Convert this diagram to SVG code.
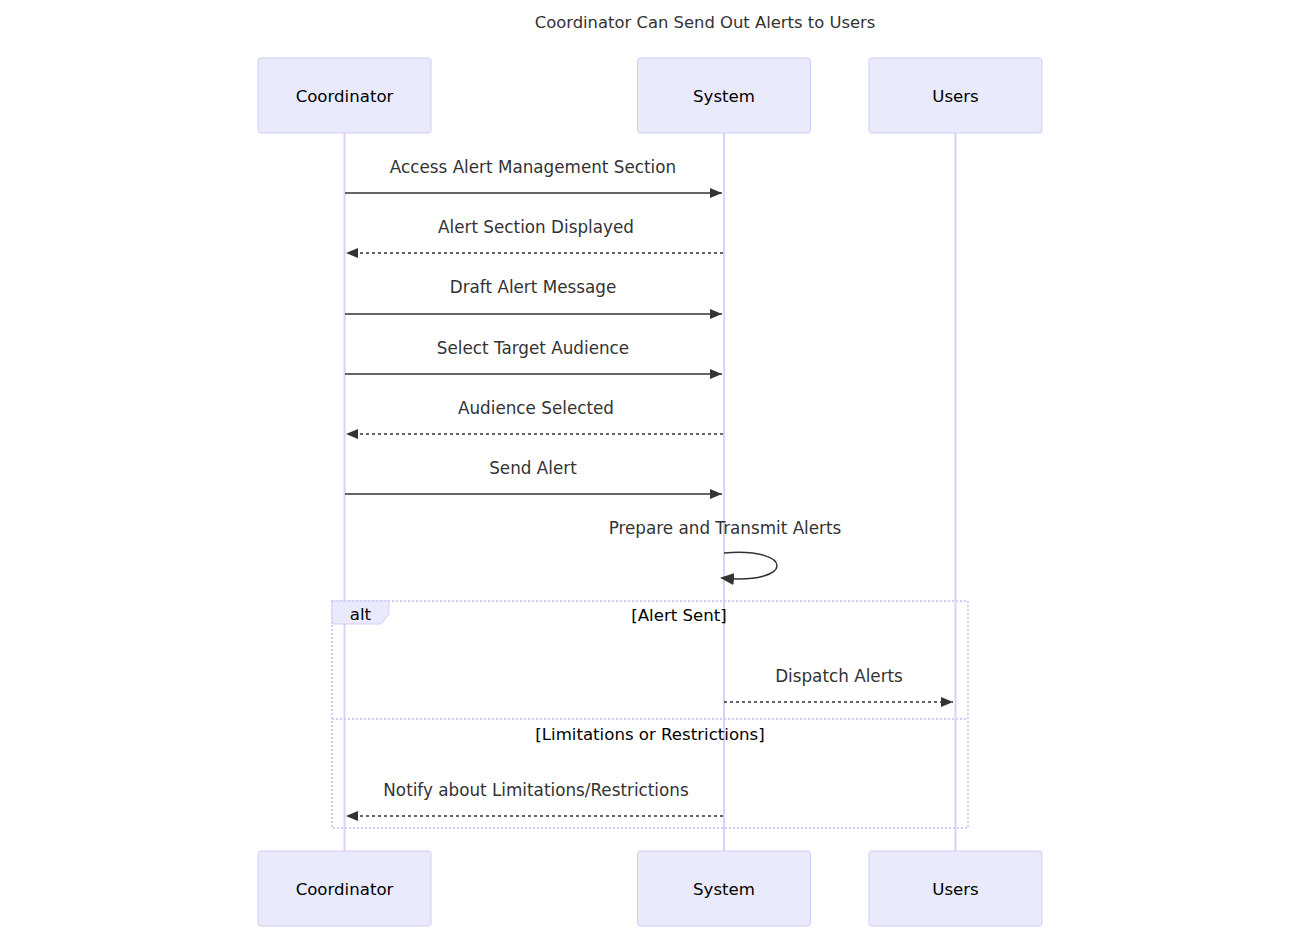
<svg xmlns="http://www.w3.org/2000/svg" width="1300" height="939" viewBox="0 0 1300 939">
<defs>
<style>
.actor{fill:#EAEAFD;stroke:#D5CCF3;stroke-width:1}
.actxt{font-family:"DejaVu Sans","Liberation Sans",sans-serif;font-size:16.6px;fill:#000;text-anchor:middle;dominant-baseline:central}
.life{stroke:#D9D2F5;stroke-width:2}
.msg{font-family:"DejaVu Sans","Liberation Sans",sans-serif;font-size:16.8px;fill:#333;text-anchor:middle;dominant-baseline:central}
.ttl{font-family:"DejaVu Sans","Liberation Sans",sans-serif;font-size:16.4px;fill:#333;text-anchor:middle;dominant-baseline:central}
.solid{stroke:#333;stroke-width:1.5;fill:none}
.dash{stroke:#333;stroke-width:1.5;fill:none;stroke-dasharray:3,3}
.loop{stroke:#D5CCF3;stroke-width:2;fill:none;stroke-dasharray:2,2}
.lbl{font-family:"DejaVu Sans","Liberation Sans",sans-serif;font-size:16.6px;fill:#000;text-anchor:middle;dominant-baseline:central}
</style>
<marker id="arr" viewBox="0 0 12 10" refX="12" refY="5" markerWidth="12" markerHeight="10" markerUnits="userSpaceOnUse" orient="auto">
<path d="M0,0 L12,5 L0,10 z" fill="#333"/>
</marker>
<marker id="arr2" viewBox="0 0 14 12" refX="12" refY="6" markerWidth="14" markerHeight="12" markerUnits="userSpaceOnUse" orient="auto">
<path d="M0,0 L14,6 L0,12 z" fill="#333"/>
</marker>
</defs>
<rect width="1300" height="939" fill="#fff"/>
<text class="ttl" x="705" y="22">Coordinator Can Send Out Alerts to Users</text>

<g id="lifelines">
<line class="life" x1="344.5" y1="133" x2="344.5" y2="851"/>
<line class="life" x1="724" y1="133" x2="724" y2="851"/>
<line class="life" x1="955.5" y1="133" x2="955.5" y2="851"/>
</g>

<g id="actor-coordinator-top"><rect class="actor" x="258" y="58" width="173" height="75" rx="3"/><text class="actxt" x="344.5" y="96">Coordinator</text></g>
<g id="actor-system-top"><rect class="actor" x="637.5" y="58" width="173" height="75" rx="3"/><text class="actxt" x="724" y="96">System</text></g>
<g id="actor-users-top"><rect class="actor" x="869" y="58" width="173" height="75" rx="3"/><text class="actxt" x="955.5" y="96">Users</text></g>

<g id="actor-coordinator-bottom"><rect class="actor" x="258" y="851" width="173" height="75" rx="3"/><text class="actxt" x="344.5" y="889">Coordinator</text></g>
<g id="actor-system-bottom"><rect class="actor" x="637.5" y="851" width="173" height="75" rx="3"/><text class="actxt" x="724" y="889">System</text></g>
<g id="actor-users-bottom"><rect class="actor" x="869" y="851" width="173" height="75" rx="3"/><text class="actxt" x="955.5" y="889">Users</text></g>

<g id="alt-frame">
<rect class="loop" x="332" y="601" width="636" height="227"/>
<path d="M332,601 L389,601 L389,614 L381,624 L332,624 z" fill="#EAEAFD" stroke="#D5CCF3" stroke-width="1"/>
<text class="lbl" x="360.5" y="614">alt</text>
<text class="lbl" x="679" y="615">[Alert Sent]</text>
<line class="loop" x1="332" y1="719" x2="968" y2="719"/>
<text class="lbl" x="650" y="734">[Limitations or Restrictions]</text>
</g>

<g id="connectors">
<text class="msg" x="533" y="167">Access Alert Management Section</text>
<line class="solid" x1="345" y1="193" x2="722" y2="193" marker-end="url(#arr)"/>
<text class="msg" x="536" y="227">Alert Section Displayed</text>
<line class="dash" x1="723" y1="253" x2="346" y2="253" marker-end="url(#arr)"/>
<text class="msg" x="533" y="287">Draft Alert Message</text>
<line class="solid" x1="345" y1="314" x2="722" y2="314" marker-end="url(#arr)"/>
<text class="msg" x="533" y="348">Select Target Audience</text>
<line class="solid" x1="345" y1="374" x2="722" y2="374" marker-end="url(#arr)"/>
<text class="msg" x="536" y="408">Audience Selected</text>
<line class="dash" x1="723" y1="434" x2="346" y2="434" marker-end="url(#arr)"/>
<text class="msg" x="533" y="468">Send Alert</text>
<line class="solid" x1="345" y1="494" x2="722" y2="494" marker-end="url(#arr)"/>
<text class="msg" x="725" y="528">Prepare and Transmit Alerts</text>
<path class="solid" d="M724,553 C795,547 795,585 722,578" marker-end="url(#arr2)"/>
<text class="msg" x="839" y="676">Dispatch Alerts</text>
<line class="dash" x1="724" y1="702" x2="953" y2="702" marker-end="url(#arr)"/>
<text class="msg" x="536" y="790">Notify about Limitations/Restrictions</text>
<line class="dash" x1="723" y1="816" x2="346" y2="816" marker-end="url(#arr)"/>
</g>
</svg>
